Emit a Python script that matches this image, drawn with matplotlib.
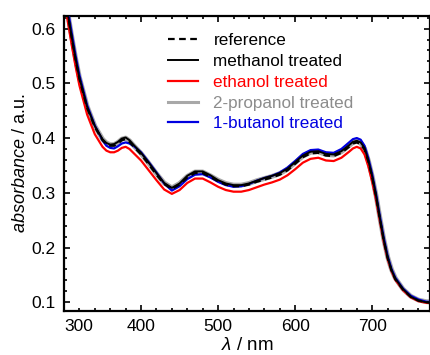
import matplotlib
matplotlib.use('Agg')
import matplotlib.pyplot as plt
from matplotlib.ticker import MultipleLocator

plt.rcParams['font.family'] = ['Liberation Sans', 'DejaVu Sans']
plt.rcParams['mathtext.fontset'] = 'custom'
plt.rcParams['mathtext.rm'] = 'Liberation Sans'
plt.rcParams['mathtext.it'] = 'Liberation Sans:italic'

# wavelength grid (nm)
wl = [300, 305, 310, 315, 320, 330, 340, 350, 355, 360, 365, 370, 375, 380, 385, 390,
      400, 410, 420, 430, 440, 450, 460, 470, 480, 490, 500, 510, 520, 530, 540, 550,
      560, 570, 580, 590, 600, 610, 620, 630, 640, 650, 660, 670, 675, 680, 685, 690,
      695, 700, 705, 710, 715, 720, 725, 730, 740, 750, 760, 770, 780]

reference = [0.680, 0.625, 0.583, 0.543, 0.508, 0.455, 0.420, 0.396, 0.389, 0.386, 0.386,
             0.390, 0.396, 0.398, 0.393, 0.385, 0.370, 0.352, 0.333, 0.316, 0.307, 0.315,
             0.328, 0.336, 0.336, 0.329, 0.321, 0.315, 0.312, 0.312, 0.315, 0.320, 0.324,
             0.328, 0.333, 0.341, 0.353, 0.365, 0.372, 0.373, 0.368, 0.367, 0.373, 0.384,
             0.390, 0.392, 0.389, 0.379, 0.357, 0.328, 0.293, 0.252, 0.213, 0.181, 0.158,
             0.142, 0.123, 0.110, 0.103, 0.100, 0.099]

methanol = [0.682, 0.627, 0.585, 0.545, 0.510, 0.457, 0.422, 0.398, 0.391, 0.388, 0.389,
            0.393, 0.399, 0.401, 0.396, 0.388, 0.373, 0.355, 0.336, 0.318, 0.309, 0.317,
            0.331, 0.339, 0.339, 0.332, 0.323, 0.317, 0.314, 0.314, 0.317, 0.322, 0.327,
            0.331, 0.336, 0.344, 0.356, 0.368, 0.375, 0.376, 0.371, 0.370, 0.376, 0.387,
            0.393, 0.395, 0.392, 0.382, 0.359, 0.330, 0.295, 0.253, 0.214, 0.182, 0.159,
            0.143, 0.124, 0.110, 0.103, 0.100, 0.099]

ethanol = [0.665, 0.612, 0.570, 0.531, 0.496, 0.443, 0.407, 0.384, 0.377, 0.374, 0.374,
           0.377, 0.382, 0.384, 0.380, 0.373, 0.359, 0.341, 0.323, 0.306, 0.298, 0.305,
           0.318, 0.326, 0.326, 0.319, 0.311, 0.305, 0.302, 0.302, 0.305, 0.310, 0.315,
           0.319, 0.324, 0.332, 0.343, 0.355, 0.362, 0.364, 0.359, 0.358, 0.364, 0.375,
           0.381, 0.384, 0.381, 0.370, 0.348, 0.320, 0.287, 0.248, 0.210, 0.179, 0.157,
           0.141, 0.122, 0.109, 0.102, 0.099, 0.098]

propanol = [0.683, 0.628, 0.586, 0.546, 0.511, 0.458, 0.422, 0.398, 0.391, 0.388, 0.388,
            0.392, 0.398, 0.400, 0.395, 0.387, 0.372, 0.354, 0.335, 0.318, 0.309, 0.317,
            0.330, 0.338, 0.338, 0.331, 0.323, 0.317, 0.314, 0.314, 0.317, 0.322, 0.326,
            0.330, 0.335, 0.343, 0.355, 0.367, 0.374, 0.375, 0.370, 0.369, 0.375, 0.386,
            0.392, 0.394, 0.391, 0.381, 0.359, 0.330, 0.295, 0.254, 0.215, 0.183, 0.160,
            0.144, 0.124, 0.111, 0.104, 0.101, 0.100]

butanol = [0.690, 0.635, 0.592, 0.551, 0.515, 0.460, 0.423, 0.396, 0.386, 0.382, 0.381,
           0.385, 0.390, 0.392, 0.390, 0.386, 0.374, 0.356, 0.337, 0.317, 0.304, 0.312,
           0.325, 0.333, 0.334, 0.328, 0.320, 0.314, 0.311, 0.312, 0.316, 0.322, 0.327,
           0.331, 0.337, 0.346, 0.358, 0.371, 0.378, 0.379, 0.374, 0.373, 0.380, 0.392,
           0.398, 0.400, 0.397, 0.386, 0.363, 0.334, 0.298, 0.257, 0.218, 0.185, 0.161,
           0.145, 0.125, 0.112, 0.105, 0.101, 0.100]

labels = ['reference', 'methanol treated', 'ethanol treated',
          '2-propanol treated', '1-butanol treated']
colors = ['black', 'black', '#ff0000', '#a8a8a8', '#0000e0']

fig = plt.figure(figsize=(4.31, 3.55), dpi=100)
ax = fig.add_axes([64 / 431, 1 - 311 / 355, 366 / 431, 295 / 355])

h_prop, = ax.plot(wl, propanol, color=colors[3], lw=3.5, zorder=1)
h_eth, = ax.plot(wl, ethanol, color=colors[2], lw=1.6, zorder=2)
h_but, = ax.plot(wl, butanol, color=colors[4], lw=1.6, zorder=3)
h_met, = ax.plot(wl, methanol, color=colors[1], lw=1.4, zorder=4)
h_ref, = ax.plot(wl, reference, color=colors[0], lw=1.6, ls=(0, (3, 2)), zorder=5)

leg = ax.legend([h_ref, h_met, h_eth, h_prop, h_but], labels, loc='upper left',
                bbox_to_anchor=(0.284, 0.942), frameon=False, fontsize=12.3,
                handlelength=1.76, handletextpad=0.9, labelspacing=0.34,
                borderaxespad=0, borderpad=0)
for txt, c in zip(leg.get_texts(), ['black', 'black', '#ff0000', '#8c8c8c', '#0000e0']):
    txt.set_color(c)
leg.legend_handles[3].set_linewidth(2.2)

ax.set_xlim(300, 775)
ax.set_ylim(0.084, 0.623)
ax.xaxis.set_major_locator(MultipleLocator(100))
ax.xaxis.set_minor_locator(MultipleLocator(20))
ax.yaxis.set_major_locator(MultipleLocator(0.1))
ax.yaxis.set_minor_locator(MultipleLocator(0.02))
ax.tick_params(which='both', direction='in', top=True, right=True, width=1.2,
               labelsize=12.5, pad=6)
ax.tick_params(which='major', length=4)
ax.tick_params(which='minor', length=2.5)
for s in ax.spines.values():
    s.set_linewidth(1.6)
ax.set_yticks([0.1, 0.2, 0.3, 0.4, 0.5, 0.6])
ax.set_yticklabels(['0.1', '0.2', '0.3', '0.4', '0.5', '0.6'])
ax.set_xticks([300, 400, 500, 600, 700])
ax.set_xticklabels(['300', '400', '500', '600', '700'])
ax.get_xticklabels()[0].set_horizontalalignment('left')

ax.set_xlabel('$\\mathit{λ}$ / nm', fontsize=13.5, labelpad=2)
ax.set_ylabel('$\\mathit{absorbance}$ / a.u.', fontsize=13, labelpad=2)

plt.savefig('out.png', dpi=100)
